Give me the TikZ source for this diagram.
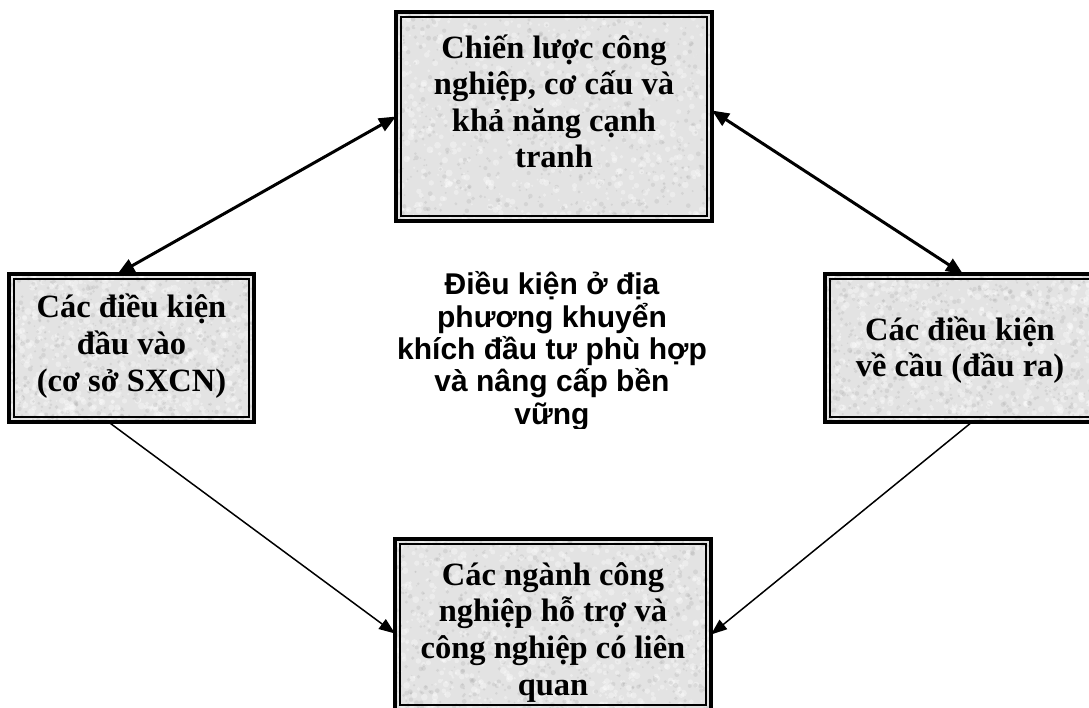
\documentclass[tikz,border=0pt]{standalone}
\usepackage{fontspec}
\setmainfont{Liberation Serif}
\newfontfamily\headsans{Liberation Sans}
\usetikzlibrary{arrows.meta,calc}

\definecolor{boxgrey}{HTML}{E3E3E3}
\definecolor{fleckdark}{HTML}{A8A8A8}

\tikzset{
  panel/.style={rectangle, fill=boxgrey, inner sep=0pt, outer sep=0pt},
  outerline/.style={draw=black, line width=3.3pt},
  innerline/.style={draw=black, line width=2pt},
  paneltext/.style={align=center, inner sep=0pt, anchor=base,
    font=\bfseries\fontsize{32.5}{36.6}\selectfont},
  centretext/.style={align=center, inner sep=0pt, anchor=base,
    font=\headsans\bfseries\fontsize{30}{32.3}\selectfont},
  boldlink/.style={line width=3pt, {Triangle[length=17pt,width=14pt]}-{Triangle[length=17pt,width=14pt]}},
  thinlink/.style={line width=1.5pt, -{Triangle[length=16pt,width=12pt]}},
  fleckw/.style={fill=white, fill opacity=0.35},
  fleckd/.style={fill=fleckdark, fill opacity=0.25},
}

% granite-like mottling inside a panel: node name, half width, half height
\newcommand\granite[3]{%
  \begin{scope}
    \clip (#1.south west) rectangle (#1.north east);
    \foreach \k in {1,...,700}{
      \fill[fleckw] (#1.center) ++({#2*rand},{#3*rand}) circle[radius={1+2.5*rnd}];
      \fill[fleckd] (#1.center) ++({#2*rand},{#3*rand}) circle[radius={0.7+1.8*rnd}];
    }
  \end{scope}}

% thick outer rule with a thinner rule just inside it
\newcommand\panelframe[1]{%
  \draw[outerline] (#1.north west) rectangle (#1.south east);
  \draw[innerline] ($(#1.north west)+(5,5)$) rectangle ($(#1.south east)+(-5,-5)$);}

\begin{document}
\begin{tikzpicture}[x=1pt,y=-1pt]
\useasboundingbox (0,0) rectangle (1089,708);
\pgfmathsetseed{4127}

% panels
\node[panel, minimum width=316pt, minimum height=209pt] (strategy) at (554,116.5) {};
\node[panel, minimum width=245pt, minimum height=148pt] (inputs) at (131.5,348) {};
\node[panel, minimum width=270pt, minimum height=148pt] (demand) at (960,348) {};
\node[panel, minimum width=316pt, minimum height=171pt] (support) at (553,624.5) {};

\granite{strategy}{158}{104.5}
\granite{inputs}{122.5}{74}
\granite{demand}{135}{74}
\granite{support}{158}{85.5}

\panelframe{strategy}
\panelframe{inputs}
\panelframe{demand}
\panelframe{support}

% panel labels (anchored on the baseline of the last line)
\node[paneltext] (strategy-label) at (554,168)
  {Chiến lược công\\nghiệp, cơ cấu và\\khả năng cạnh\\tranh};
\node[paneltext] (inputs-label) at (131.5,391)
  {Các điều kiện\\đầu vào\\(cơ sở SXCN)};
\node[paneltext] (demand-label) at (960,377)
  {Các điều kiện\\về cầu (đầu ra)};
\node[paneltext] (support-label) at (553,695)
  {Các ngành công\\nghiệp hỗ trợ và\\công nghiệp có liên\\quan};

% central statement, cut off at the foot of its frame
\begin{scope}
  \clip (370,250) rectangle (730,428);
  \node[centretext] (locale) at (552,424)
    {Điều kiện ở địa\\phương khuyển\\khích đầu tư phù hợp\\và nâng cấp bền\\vững};
\end{scope}

% links
\draw[boldlink] (strategy.west) -- ($(inputs.north)+(-14,0)$);
\draw[boldlink] ($(strategy.east)+(0,-6)$) -- ($(demand.north)+(3,0)$);
\draw[thinlink] ($(inputs.south)+(-23,0)$) -- ($(support.west)+(0,9)$);
\draw[thinlink] ($(demand.south)+(12,0)$) -- ($(support.east)+(0,10)$);
\end{tikzpicture}
\end{document}
